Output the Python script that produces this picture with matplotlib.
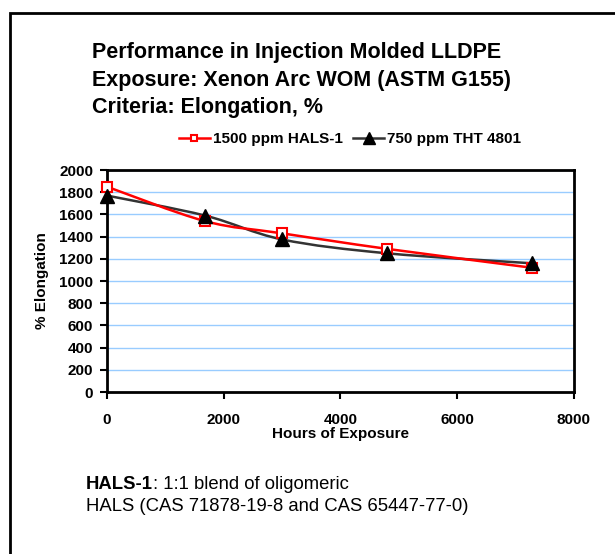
import numpy as np
import matplotlib
matplotlib.use('Agg')
import matplotlib.pyplot as plt
from matplotlib.path import Path
from matplotlib.patches import PathPatch, Rectangle
from matplotlib.lines import Line2D

plt.rcParams['font.family'] = ['Liberation Sans', 'DejaVu Sans']

hours = [0, 1680, 3000, 4800, 7280]
hals1 = [1850, 1540, 1430, 1290, 1120]
tht4801 = [1770, 1590, 1375, 1250, 1160]
labels = ['1500 ppm HALS-1', '750 ppm THT 4801']
y_ticks = list(range(0, 2001, 200))
x_ticks = [0, 2000, 4000, 6000, 8000]
tytul = ['Performance in Injection Molded LLDPE',
         'Exposure: Xenon Arc WOM (ASTM G155)',
         'Criteria: Elongation, %']


def gladka(x, y):
    # krzywa Beziera jak "smoothed line" w Excelu
    p = np.column_stack([x, y]).astype(float)
    n = len(p)
    wierz = [p[0]]
    kody = [Path.MOVETO]
    for i in range(n - 1):
        p0 = p[i - 1] if i > 0 else p[i]
        p3 = p[i + 2] if i + 2 < n else p[i + 1]
        c1 = p[i] + (p[i + 1] - p0) / 6
        c2 = p[i + 1] - (p3 - p[i]) / 6
        wierz += [c1, c2, p[i + 1]]
        kody += [Path.CURVE4] * 3
    return Path(wierz, kody)


rys = plt.figure(figsize=(6.15, 5.54), dpi=100)
rys.patches.append(Rectangle((10 / 615, -0.05), 1.1, 1 - 13 / 554 + 0.05,
                             transform=rys.transFigure, fill=False,
                             edgecolor='black', linewidth=2))

os = rys.add_axes([0.174, 0.2924, 0.759, 0.4006])
for v in y_ticks[1:]:
    os.axhline(v, color='#99ccff', linewidth=1, zorder=1)

os.add_patch(PathPatch(gladka(hours, tht4801), fill=False, edgecolor='#333333',
                       linewidth=1.8, zorder=2))
os.add_patch(PathPatch(gladka(hours, hals1), fill=False, edgecolor='#ff0000',
                       linewidth=1.8, zorder=3))
os.plot(hours, hals1, linestyle='none', marker='s', markersize=7,
        markerfacecolor='white', markeredgecolor='#ff0000', markeredgewidth=1.5,
        zorder=4, clip_on=False)
os.plot(hours, tht4801, linestyle='none', marker='^', markersize=10,
        color='black', zorder=5, clip_on=False)

os.set_xlim(0, 8000)
os.set_ylim(0, 2000)
os.set_xticks(x_ticks)
os.set_yticks(y_ticks)
os.set_xticklabels([str(v) for v in x_ticks], fontweight='bold', fontsize=11)
os.set_yticklabels([str(v) for v in y_ticks], fontweight='bold', fontsize=11)
os.tick_params(axis='x', direction='out', length=5, width=1.5, pad=10)
os.tick_params(axis='y', direction='out', length=5, width=1.5, pad=5)
for s in os.spines.values():
    s.set_linewidth(2)
os.set_xlabel('Hours of Exposure', fontweight='bold', fontsize=11, labelpad=0)
os.set_ylabel('% Elongation', fontweight='bold', fontsize=11, labelpad=7)

for wiersz, y in zip(tytul, [58, 86, 113]):
    rys.text(92 / 615, 1 - y / 554, wiersz, fontsize=15.5, fontweight='bold',
             va='baseline', ha='left')

uchwyty = [Line2D([], [], color='#ff0000', linewidth=1.8, marker='s', markersize=5,
                  markerfacecolor='white', markeredgecolor='#ff0000', markeredgewidth=1.5),
           Line2D([], [], color='#333333', linewidth=1.8, marker='^', markersize=9,
                  markerfacecolor='black', markeredgecolor='black')]
rys.legend(uchwyty, labels, loc='center', bbox_to_anchor=(350 / 615, 1 - 139 / 554),
           ncol=2, frameon=False, prop={'weight': 'bold', 'size': 11},
           handlelength=2.0, handletextpad=0.2, columnspacing=0.7, borderpad=0)

pogr = rys.text(86 / 615, 1 - 489 / 554, 'HALS-1', fontsize=13.3, fontweight='bold',
                va='baseline')
os.annotate(': 1:1 blend of oligomeric', xy=(1, 0), xycoords=pogr, fontsize=13.3,
            va='bottom', ha='left', annotation_clip=False)
rys.text(86 / 615, 1 - 511 / 554, 'HALS (CAS 71878-19-8 and CAS 65447-77-0)', fontsize=13.3,
         va='baseline')

plt.savefig('out.png', dpi=100)
